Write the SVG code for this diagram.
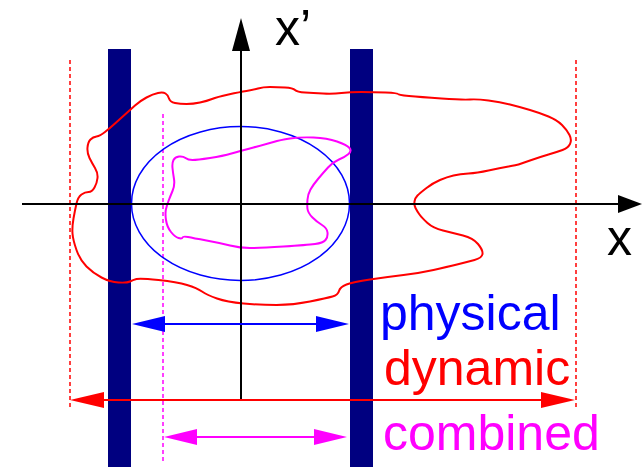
<svg xmlns="http://www.w3.org/2000/svg" width="642" height="467" viewBox="0 0 642 467">
<style>
.bar{fill:#000080}
.ax{stroke:#000;stroke-width:2;fill:none}
.lbl{font-family:"Liberation Sans",Arial,sans-serif;font-size:50px}
.blob{fill:none;stroke-width:2;stroke-linejoin:round}
</style>
<rect width="642" height="467" fill="#fff"/>
<g id="bars">
<rect class="bar" x="108" y="49" width="23" height="418"/>
<rect class="bar" x="350" y="49" width="23" height="418"/>
</g>
<g id="guides">
<line x1="70" y1="60" x2="70" y2="407" stroke="#f00" stroke-width="1.5" stroke-dasharray="4,3"/>
<line x1="576" y1="60" x2="576" y2="407" stroke="#f00" stroke-width="1.5" stroke-dasharray="4,3"/>
<line x1="163" y1="114" x2="163" y2="462" stroke="#f0f" stroke-width="1.5" stroke-dasharray="4,3"/>
</g>
<g id="physical-ellipse">
<ellipse cx="240.5" cy="203.5" rx="109" ry="77" fill="none" stroke="#00f" stroke-width="1.5"/>
</g>
<g id="dynamic-blob">
<path class="blob" stroke="#f00" d="M76.5,203.5 Q78,197 81.5,194.5 Q85,192 88.5,192 Q92,192 94.5,187.5 Q97,183 97.5,178 Q98,173 95,168 Q92,163 89.5,158 Q87,153 87.5,147.5 Q88,142 90.5,139.5 Q93,137 96.5,136.5 Q100,136 105,132 Q110,128 115,123.5 Q120,119 125,114.5 Q130,110 135,105.5 Q140,101 146.5,97.5 Q153,94 158,93 Q163,92 165.5,93.5 Q168,95 169,98.5 Q170,102 175,103 Q180,104 186.5,104 Q193,104 200,102.5 Q207,101 212,99 Q217,97 228.5,94.5 Q240,92 246.5,91 Q253,90 258,88.5 Q263,87 270,87 Q277,87 285,87.5 Q293,88 295,90 Q297,92 305,92.5 Q313,93 323,93.5 Q333,94 341.5,93 Q350,92 361.5,92 Q373,92 385.5,92.5 Q398,93 398,94 Q398,95 409,96 Q420,97 441.5,98.5 Q463,100 470,99.5 Q477,99 488.5,100.5 Q500,102 510,104.5 Q520,107 530,110 Q540,113 548.5,116.5 Q557,120 562,125 Q567,130 569.5,135 Q572,140 570,144 Q568,148 562.5,150 Q557,152 548.5,154.5 Q540,157 530,160.5 Q520,164 518.5,164.5 Q517,165 508.5,166.5 Q500,168 488.5,170.5 Q477,173 468.5,173.5 Q460,174 453.5,175.5 Q447,177 440,180 Q433,183 426.5,188 Q420,193 417.5,195.5 Q415,198 414.5,201.5 Q414,205 415.5,208 Q417,211 419.5,214.5 Q422,218 427.5,223 Q433,228 443,230.5 Q453,233 463,235.5 Q473,238 478,244 Q483,250 482.5,254 Q482,258 474.5,260 Q467,262 457,264.5 Q447,267 433.5,270 Q420,273 403.5,275 Q387,277 370,279.5 Q353,282 346.5,284.5 Q340,287 339,291 Q338,295 332.5,296.5 Q327,298 310,301.5 Q293,305 276.5,305 Q260,305 243.5,303.5 Q227,302 217,298.5 Q207,295 202,291.5 Q197,288 187,285 Q177,282 158.5,280 Q140,278 136.5,279 Q133,280 130,281.5 Q127,283 118.5,282.5 Q110,282 101.5,277.5 Q93,273 86.5,266.5 Q80,260 76.5,250 Q73,240 72.5,233.5 Q72,227 73.5,218.5 Q75,210 76.5,203.5 Z"/>
</g>
<g id="combined-blob">
<path class="blob" stroke="#f0f" d="M166,209 Q167,205 168.5,201 Q170,197 172.5,191 Q175,185 174,179 Q173,173 172.5,168 Q172,163 173.5,160 Q175,157 179,156.5 Q183,156 185.5,158 Q188,160 192.5,160 Q197,160 210,158 Q223,156 231.5,153.5 Q240,151 253.5,147.5 Q267,144 273.5,142 Q280,140 290,138.5 Q300,137 313.5,137.5 Q327,138 337,141.5 Q347,145 349.5,148 Q352,151 348.5,154 Q345,157 339,159.5 Q333,162 328,167.5 Q323,173 318,179 Q313,185 310.5,189.5 Q308,194 307.5,199.5 Q307,205 307.5,209 Q308,213 312.5,217.5 Q317,222 322,225 Q327,228 327.5,232.5 Q328,237 325.5,240 Q323,243 315,244 Q307,245 283.5,246.5 Q260,248 250,248 Q240,248 230,245.5 Q220,243 206.5,240.5 Q193,238 188,237 Q183,236 182.5,237.5 Q182,239 178.5,238 Q175,237 171,232 Q167,227 166,220 Q165,213 166,209 Z"/>
</g>
<g id="axes">
<line class="ax" x1="241" y1="400" x2="241" y2="48"/>
<polygon points="232,51 250,51 241,18" fill="#000"/>
<line class="ax" x1="22" y1="204" x2="620" y2="204"/>
<polygon points="618,195 618,213 642,204" fill="#000"/>
<text class="lbl" x="275" y="45" font-size="52">x’</text>
<text class="lbl" x="607" y="255" font-size="56">x</text>
</g>
<g id="connectors">
<line x1="160" y1="324" x2="322" y2="324" stroke="#00f" stroke-width="2"/>
<polygon points="132,324 165,316 165,332" fill="#00f"/>
<polygon points="349,324 316,316 316,332" fill="#00f"/>
<line x1="100" y1="400" x2="545" y2="400" stroke="#f00" stroke-width="2"/>
<polygon points="70,400 104,392 104,408" fill="#f00"/>
<polygon points="575,400 541,392 541,408" fill="#f00"/>
<line x1="190" y1="437" x2="322" y2="437" stroke="#f0f" stroke-width="2"/>
<polygon points="164,437 197,429 197,445" fill="#f0f"/>
<polygon points="347,437 314,429 314,445" fill="#f0f"/>
</g>
<g id="labels">
<text class="lbl" x="380" y="330" fill="#00f">physical</text>
<text class="lbl" x="384" y="385" fill="#f00">dynamic</text>
<text class="lbl" x="383" y="450" fill="#f0f">combined</text>
</g>
</svg>
